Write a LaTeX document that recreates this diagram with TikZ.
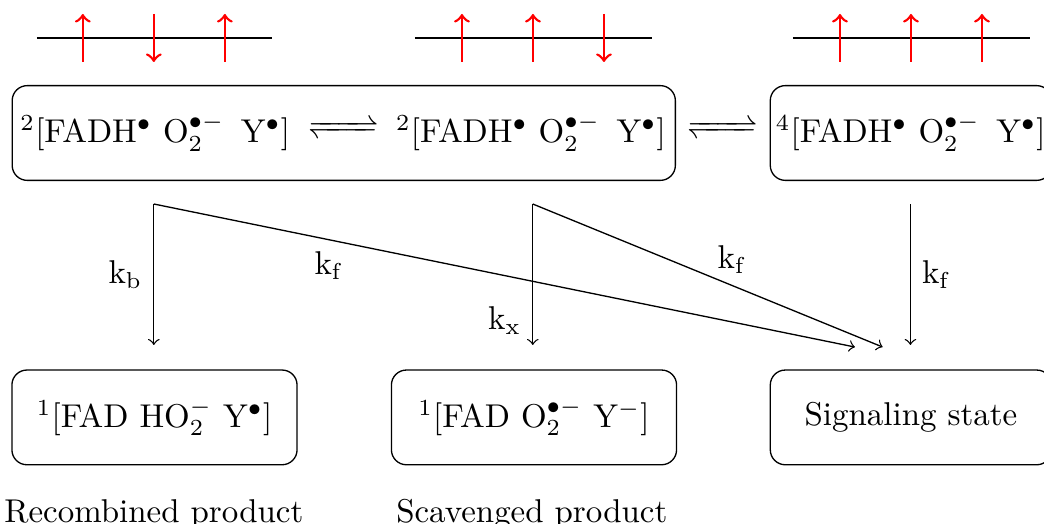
\documentclass[tikz,border=0pt]{standalone}
\usepackage{mathtools}
\usetikzlibrary{calc}
\tikzset{
	statebox/.style={draw, rounded corners=0.16cm, minimum width=3.04cm, minimum height=1.01cm, inner sep=0pt},
	spinarrow/.style={draw=red, thick, ->},
	rate/.style={->}
}
\def\spinup(#1){\draw[spinarrow] (#1,-0.661) -- (#1,-0.149);}
\def\spindown(#1){\draw[spinarrow] (#1,-0.149) -- (#1,-0.661);}
\newcommand{\rdot}{$^{\bullet}$}
\newcommand{\superox}{O$_2^{\bullet-}$}
\newcommand{\eqarrow}{$\xrightleftharpoons{\hspace{1.5em}}$}

\begin{document}
\begin{tikzpicture}
		%%%%% START %%%%%
		\useasboundingbox (0, 0) rectangle (11.13, -5.586);
		
		% spin pictures
		\draw (0.394, -0.405) -- (2.90, -0.405);
		\spinup(0.883) \spindown(1.64) \spinup(2.397)
		\draw (4.424, -0.405) -- (6.951, -0.405);
		\spinup(4.925) \spinup(5.682) \spindown(6.439)
		\draw (8.454, -0.405) -- (10.981, -0.405);
		\spinup(8.955) \spinup(9.712) \spinup(10.469)
		
		% radical pair states
		\node[statebox, minimum width=7.07cm] (pairbox) at (3.665, -1.418) {};
		\node (singletA) at (1.655, -1.418) {$^2$[FADH\rdot{} \superox{}\, Y\rdot]};
		\node (singletB) at (5.66, -1.418) {$^2$[FADH\rdot{} \superox{}\, Y\rdot]};
		\node[inner sep=0pt] (eqA) at (3.66, -1.418) {\eqarrow};
		\node[statebox, minimum width=3.0cm] (quartet) at (9.712, -1.418) {};
		\node[anchor=west, inner sep=0pt] (quartetText) at (8.265, -1.418) {$^4$[FADH\rdot{} \superox{}\, Y\rdot]};
		\node[inner sep=0pt] (eqB) at (7.70, -1.418) {\eqarrow};
		
		% products
		\node[statebox] (recomb) at (1.647, -4.45) {$^1$[FAD HO$_2^-$ Y\rdot]};
		\node[statebox] (scaveng) at (5.693, -4.45) {$^1$[FAD \superox{} Y$^-$]};
		\node[statebox, minimum width=3.0cm] (signal) at (9.712, -4.45) {Signaling state};
		\node[anchor=base] (recombLabel) at (1.64, -5.575) {Recombined product};
		\node[anchor=base] (scavengLabel) at (5.67, -5.575) {Scavenged product};
		
		% rates
		\coordinate (srcA) at (1.64, -2.175);
		\coordinate (srcB) at (5.68, -2.175);
		\coordinate (srcC) at (9.706, -2.175);
		\coordinate (dstA) at (1.64, -3.678);
		\coordinate (dstB) at (5.68, -3.678);
		\coordinate (dstC) at (9.706, -3.678);
		\coordinate (dstCa) at (9.115, -3.70);
		\coordinate (dstCb) at (9.41, -3.70);
		
		\draw[rate] (srcA) -- (dstA) node[midway, left] {$\mathrm{k_b}$};
		\draw[rate] (srcA) -- (dstCa) node[pos=0.25, below] {$\mathrm{k_f}$};
		\draw[rate] (srcB) -- (dstB) node[pos=0.83, left] {$\mathrm{k_x}$};
		\draw[rate] (srcB) -- (dstCb) node[pos=0.57, above] {$\mathrm{k_f}$};
		\draw[rate] (srcC) -- (dstC) node[midway, right] {$\mathrm{k_f}$};
		
		%%%%% END %%%%%
\end{tikzpicture}
\end{document}
